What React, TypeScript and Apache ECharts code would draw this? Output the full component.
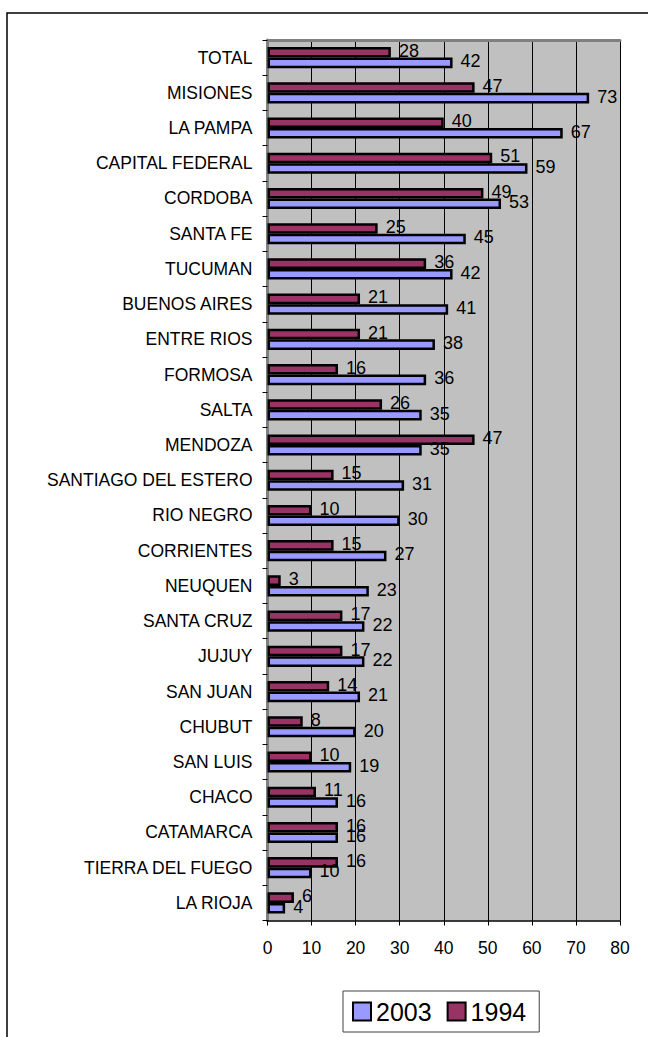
import React, { useEffect, useRef } from "react";
import * as echarts from "echarts";

const categories = [
  "TOTAL", "MISIONES", "LA PAMPA", "CAPITAL FEDERAL", "CORDOBA", "SANTA FE",
  "TUCUMAN", "BUENOS AIRES", "ENTRE RIOS", "FORMOSA", "SALTA", "MENDOZA",
  "SANTIAGO DEL ESTERO", "RIO NEGRO", "CORRIENTES", "NEUQUEN", "SANTA CRUZ",
  "JUJUY", "SAN JUAN", "CHUBUT", "SAN LUIS", "CHACO", "CATAMARCA",
  "TIERRA DEL FUEGO", "LA RIOJA",
];
const values2003 = [42, 73, 67, 59, 53, 45, 42, 41, 38, 36, 35, 35, 31, 30, 27, 23, 22, 22, 21, 20, 19, 16, 16, 10, 4];
const values1994 = [28, 47, 40, 51, 49, 25, 36, 21, 21, 16, 26, 47, 15, 10, 15, 3, 17, 17, 14, 8, 10, 11, 16, 16, 6];
const xTicks = { min: 0, max: 80, interval: 10 };

const FONT = "'Liberation Sans', Arial, Helvetica, sans-serif";

export default function App() {
  const ref = useRef<HTMLDivElement>(null);
  useEffect(() => {
    if (!ref.current) return;
    const chart = echarts.init(ref.current, null, { renderer: "svg" });
    const labelStyle = {
      show: true,
      position: "right" as const,
      distance: 8,
      offset: [0, -1.5],
      color: "#000",
      fontSize: 18,
      fontFamily: FONT,
    };
    chart.setOption({
      animation: false,
      backgroundColor: "#ffffff",
      textStyle: { fontFamily: FONT },
      grid: {
        left: 267.5,
        top: 40,
        right: 28,
        bottom: 116.5,
        show: true,
        backgroundColor: "#c0c0c0",
        borderWidth: 0,
        outerBoundsMode: "none",
      },
      graphic: [
        {
          type: "rect",
          shape: { x: 7, y: 13, width: 1000, height: 1200 },
          style: { fill: "none", stroke: "#000", lineWidth: 1.5 },
          silent: true,
        },
      ],
      legend: {
        data: ["2003", "1994"],
        left: 343,
        top: 991,
        orient: "horizontal",
        itemWidth: 18,
        itemHeight: 18,
        itemGap: 15,
        padding: [8, 13, 8, 9],
        borderColor: "#404040",
        borderWidth: 1,
        backgroundColor: "#fff",
        icon: "rect",
        textStyle: { fontSize: 25, color: "#000", fontFamily: FONT },
      },
      xAxis: [
        {
          type: "value",
          min: xTicks.min,
          max: xTicks.max,
          interval: xTicks.interval,
          position: "bottom",
          axisLine: { show: true, lineStyle: { color: "#000", width: 1.5 } },
          axisTick: { show: true, length: 5, lineStyle: { color: "#000" } },
          axisLabel: { fontSize: 17.5, color: "#000", margin: 18, fontFamily: FONT },
          splitLine: { show: true, lineStyle: { color: "#000", width: 1 } },
        },
        {
          type: "value",
          min: xTicks.min,
          max: xTicks.max,
          interval: xTicks.interval,
          position: "top",
          axisLine: { show: true, lineStyle: { color: "#808080", width: 3 } },
          axisTick: { show: false },
          axisLabel: { show: false },
          splitLine: { show: false },
        },
      ],
      yAxis: [
        {
          type: "category",
          data: categories,
          inverse: true,
          position: "left",
          axisLine: { show: true, lineStyle: { color: "#000", width: 1.5 } },
          axisTick: { show: true, length: 5, lineStyle: { color: "#000" } },
          axisLabel: { fontSize: 17.5, color: "#000", margin: 15, fontFamily: FONT },
          splitLine: { show: false },
        },
        {
          type: "category",
          data: categories,
          inverse: true,
          position: "right",
          axisLine: { show: true, lineStyle: { color: "#808080", width: 3 } },
          axisTick: { show: false },
          axisLabel: { show: false },
          splitLine: { show: false },
        },
      ],
      series: [
        {
          name: "1994",
          type: "bar",
          xAxisIndex: 0,
          yAxisIndex: 0,
          data: values1994,
          barGap: "0%",
          barCategoryGap: "40%",
          itemStyle: { color: "#993366", borderColor: "#000", borderWidth: 2.5 },
          label: labelStyle,
        },
        {
          name: "2003",
          type: "bar",
          xAxisIndex: 0,
          yAxisIndex: 0,
          data: values2003,
          barGap: "0%",
          barCategoryGap: "40%",
          itemStyle: { color: "#9999ff", borderColor: "#000", borderWidth: 2.5 },
          label: labelStyle,
        },
      ],
    });
    return () => chart.dispose();
  }, []);
  return (
    <div
      ref={ref}
      style={{ position: "fixed", left: 0, top: 0, width: 648, height: 1037 }}
    />
  );
}
